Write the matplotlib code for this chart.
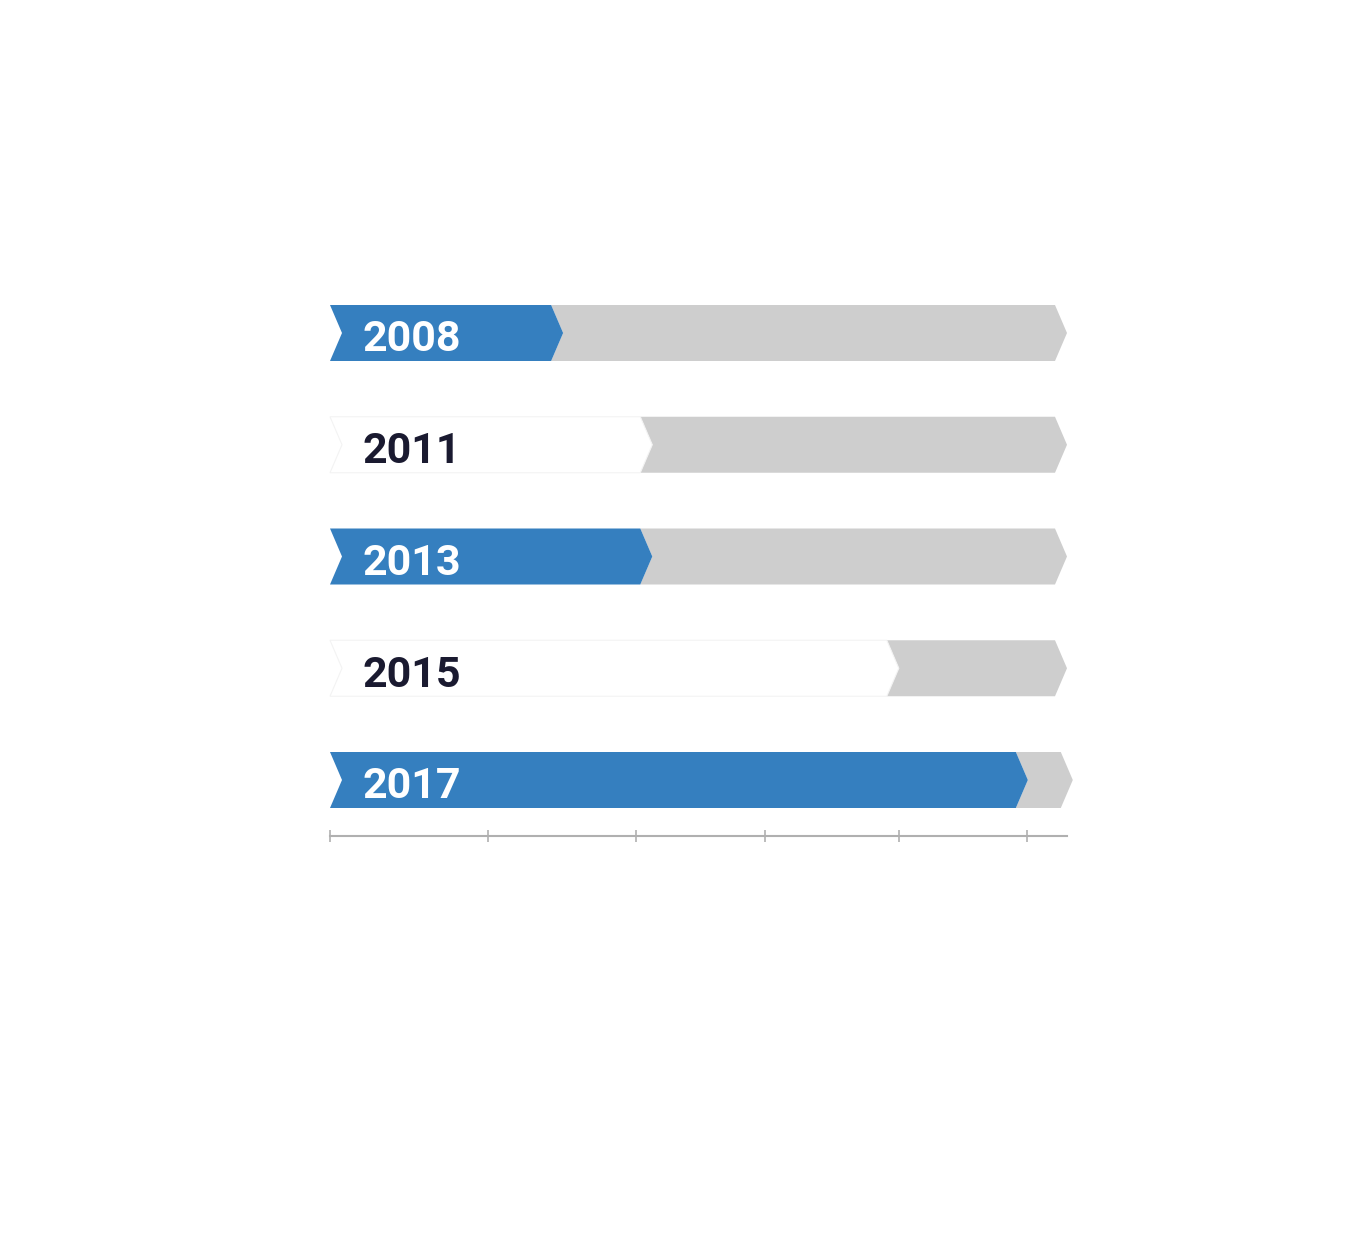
import matplotlib.pyplot as plt
from matplotlib.patches import Polygon

# data
years = ["2008", "2011", "2013", "2015", "2017"]
progress = [30.5, 42.8, 42.8, 76.8, 94.6]
remainder = [69.5, 57.2, 57.2, 23.2, 6.2]
highlight = [True, False, True, False, True]
tick_pos = [0, 21.8, 42.2, 60.0, 78.5, 96.1]

blue = "#357fbf"
grey = "#cecece"
dark = "#1a1a30"
axis_col = "#b0b0b0"

# x: 0 -> 330px, 100 -> 1055px ; y: row 0 -> 333px from top, 111.75px per row
px_per_unit = 7.25
point = 12 / px_per_unit
half_h = 28 / 111.75

fig = plt.figure(figsize=(13.7, 12.5), dpi=100)
ax = fig.add_axes([0, 0, 1, 1])
ax.set_xlim(-330 / px_per_unit, (1370 - 330) / px_per_unit)
ax.set_ylim((1250 - 333) / 111.75, -333 / 111.75)
ax.axis("off")


def chevron(x0, x1, y, **kw):
    pts = [(x0, y - half_h), (x1, y - half_h), (x1 + point, y),
           (x1, y + half_h), (x0, y + half_h), (x0 + point, y)]
    return Polygon(pts, closed=True, **kw)


for i, year in enumerate(years):
    start = progress[i]
    end = progress[i] + remainder[i]
    ax.add_patch(chevron(start, end, i, facecolor=grey, edgecolor="none", zorder=1))
    if highlight[i]:
        ax.add_patch(chevron(0, start, i, facecolor=blue, edgecolor="none", zorder=2))
        col = "white"
    else:
        ax.add_patch(chevron(0, start, i, facecolor="white", edgecolor="#f3f3f3",
                             linewidth=0.8, zorder=2))
        col = dark
    ax.text(32 / px_per_unit, i + 0.165, year, color=col, fontsize=31,
            fontweight="bold", family=["Roboto", "DejaVu Sans"],
            ha="left", va="baseline", zorder=3)

# bottom axis line with ticks
axis_end = (1067 - 330) / px_per_unit
ax2 = fig.add_axes([330 / 1370, 1 - 835.5 / 1250, (1067 - 330) / 1370, 0.0001])
ax2.set_xlim(0, axis_end)
ax2.set_yticks([])
for s in ["top", "left", "right"]:
    ax2.spines[s].set_visible(False)
ax2.spines["bottom"].set_color(axis_col)
ax2.spines["bottom"].set_linewidth(1.5)
ax2.set_xticks(tick_pos)
ax2.set_xticklabels([])
ax2.tick_params(axis="x", direction="inout", length=8.6, width=1.2, color=axis_col)
ax2.patch.set_visible(False)

fig.savefig("out.png", dpi=100)
